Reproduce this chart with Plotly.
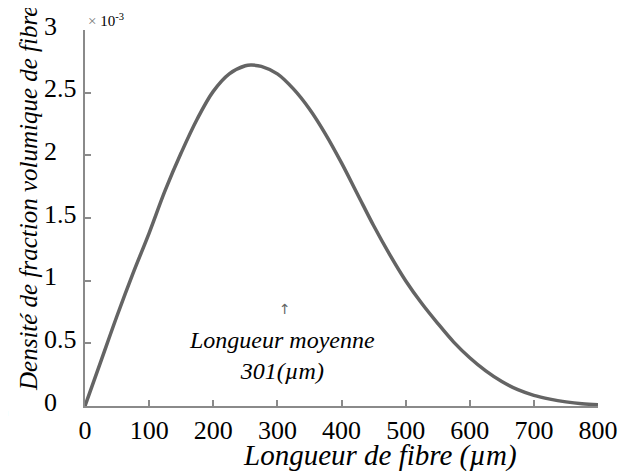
import plotly.graph_objects as go

# Fibre length (µm) and volume-fraction density (x 10^-3)
fibre_length = [0, 25, 50, 75, 100, 125, 150, 175, 200, 225, 250, 260, 275, 300, 325, 350,
                375, 400, 425, 450, 475, 500, 525, 550, 575, 600, 625, 650, 675, 700,
                725, 750, 775, 800]
density_e3 = [0.0, 0.36, 0.72, 1.06, 1.38, 1.72, 2.02, 2.29, 2.51, 2.65, 2.715, 2.72, 2.71,
              2.65, 2.53, 2.37, 2.17, 1.94, 1.69, 1.44, 1.21, 1.00, 0.82, 0.66, 0.51,
              0.385, 0.28, 0.195, 0.13, 0.085, 0.055, 0.033, 0.018, 0.01]

x_ticks = [0, 100, 200, 300, 400, 500, 600, 700, 800]
y_ticks = [0, 0.5, 1, 1.5, 2, 2.5, 3]
y_tick_text = ["0", "0.5", "1", "1.5", "2", "2.5", "3"]

mean_length = 301          # value in the label
mean_marker_x = 312        # where the label/arrow sits on the x axis
mean_marker_y = 0.77

FONT = "Liberation Serif"
AXIS_COL = "#8a8a8a"

fig = go.Figure()
fig.add_trace(go.Scatter(
    x=fibre_length, y=density_e3, mode="lines",
    line=dict(color="#646464", width=3.5, shape="spline", smoothing=1.0),
    showlegend=False, hoverinfo="skip"))

# left-aligned y tick labels, placed on the y scale
ytick_annotations = [
    dict(x=0, y=v, xref="paper", yref="y", xanchor="left", yanchor="middle",
         xshift=-43, yshift=4, showarrow=False, text=t,
         font=dict(family=FONT, size=26, color="black"))
    for v, t in zip(y_ticks, y_tick_text)
]

fig.update_layout(
    width=627, height=476,
    margin=dict(l=77, r=37, t=22, b=78, autoexpand=False),
    paper_bgcolor="white", plot_bgcolor="white",
    font=dict(family=FONT, size=25, color="black"),
    xaxis=dict(range=[0, 800], tickvals=x_ticks, ticks="inside", ticklen=6,
               tickcolor=AXIS_COL, tickwidth=1.5, showline=True, linecolor=AXIS_COL,
               linewidth=2, showgrid=False, zeroline=False, automargin=False,
               tickfont=dict(family=FONT, size=26, color="black")),
    yaxis=dict(range=[0, 3], tickvals=y_ticks, showticklabels=False, ticks="inside",
               ticklen=6, tickcolor=AXIS_COL, tickwidth=1.5, showline=True,
               linecolor=AXIS_COL, linewidth=2, showgrid=False, zeroline=False,
               automargin=False),
    annotations=ytick_annotations + [
        dict(x=0, y=1, xref="paper", yref="paper", xanchor="left", yanchor="bottom",
             xshift=1, yshift=-1, showarrow=False,
             text="<span style='color:#777'>×</span> 10<sup>-3</sup>",
             font=dict(family=FONT, size=15, color="black")),
        dict(x=0, y=0.5, xref="paper", yref="paper", xanchor="center", yanchor="middle",
             xshift=-57, yshift=19, textangle=-90, showarrow=False,
             text="<i>Densité de fraction volumique de fibre</i>",
             font=dict(family=FONT, size=25, color="black")),
        dict(x=460, y=0, xref="x", yref="paper", xanchor="center", yanchor="middle",
             yshift=-49, showarrow=False,
             text="<i>Longueur de fibre (µm)</i>",
             font=dict(family=FONT, size=29, color="black")),
        dict(x=mean_marker_x, y=mean_marker_y, xref="x", yref="y", xanchor="center",
             yanchor="middle", showarrow=False, text="↑",
             font=dict(family="DejaVu Sans", size=14, color="#666")),
        dict(x=mean_marker_x - 5, y=mean_marker_y, xref="x", yref="y", xanchor="center",
             yanchor="middle", yshift=-46, showarrow=False,
             text=f"<i>Longueur moyenne<br>{mean_length}(µm)</i>",
             font=dict(family=FONT, size=24, color="black")),
        dict(x=0, y=0, xref="paper", yref="paper", xanchor="right", yanchor="middle",
             xshift=-74, yshift=-5, showarrow=False, text="0)",
             font=dict(family=FONT, size=26, color="black")),
    ],
)

fig.write_html("out.html")
